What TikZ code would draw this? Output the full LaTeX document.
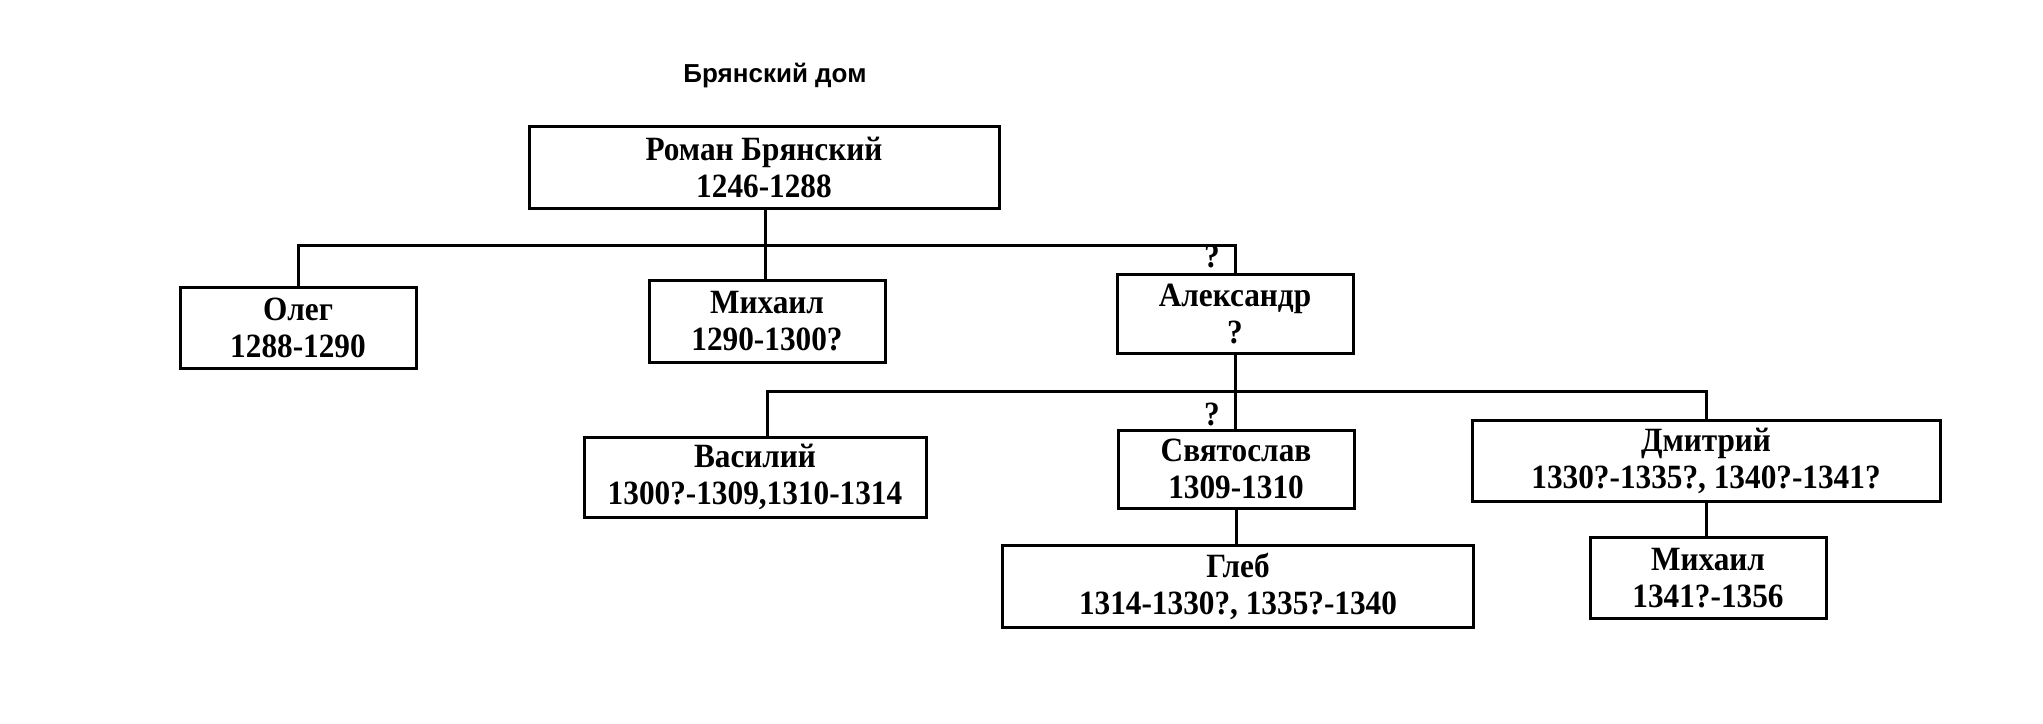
\documentclass[tikz,border=0pt]{standalone}
\usepackage{fontspec}
\setmainfont{Liberation Serif}[FakeStretch=0.92]
\newfontfamily\titlefont{Liberation Sans}
\begin{document}
\begin{tikzpicture}[x=0.5pt,y=-0.5pt,
  person/.style={draw=black,line width=1.5pt,rectangle,inner sep=0pt,align=center,
    font=\fontsize{17}{18.5}\selectfont\bfseries},
  link/.style={line width=1.5pt},
  qmark/.style={font=\fontsize{17}{18.5}\selectfont\bfseries,inner sep=0pt}]
\useasboundingbox (0,0) rectangle (2043,723);
\node[font=\titlefont\fontsize{13}{15}\selectfont\bfseries] (title) at (775,76) {Брянский дом};
\node[person,minimum width=235pt,minimum height=41pt] (roman) at (764,167) {Роман Брянский\\1246-1288};
\node[person,minimum width=118pt,minimum height=40.5pt] (oleg) at (298,328) {Олег\\1288-1290};
\node[person,minimum width=118pt,minimum height=41pt] (mikh1) at (767,321) {Михаил\\1290-1300?};
\node[person,minimum width=118pt,minimum height=39.5pt] (alex) at (1235,314) {Александр\\?};
\node[person,minimum width=171pt,minimum height=40pt] (vasily) at (755,477) {Василий\\1300?-1309,1310-1314};
\node[person,minimum width=118pt,minimum height=39pt] (svyat) at (1236,469) {Святослав\\1309-1310};
\node[person,minimum width=234pt,minimum height=40.5pt] (dmitry) at (1706,461) {Дмитрий\\1330?-1335?, 1340?-1341?};
\node[person,minimum width=235.5pt,minimum height=41pt] (gleb) at (1238,586) {Глеб\\1314-1330?, 1335?-1340};
\node[person,minimum width=118pt,minimum height=40.5pt] (mikh2) at (1708,578) {Михаил\\1341?-1356};
\coordinate (j1) at (765,245);
\coordinate (j2) at (1235,391);
\draw[link] (roman.south -| j1) -- (mikh1.north -| j1);
\draw[link] (oleg.north) |- (j1) -| (alex.north);
\draw[link] (alex.south) -- (j2);
\draw[link] (vasily.north -| mikh1) |- (j2) -| (dmitry.north);
\draw[link] (j2) -- (j2 |- svyat.north);
\draw[link] (svyat.south) -- (svyat.south |- gleb.north);
\draw[link] (dmitry.south) -- (dmitry.south |- mikh2.north);
\node[qmark] (q1) at (1212,256) {?};
\node[qmark] (q2) at (1212,414) {?};
\end{tikzpicture}
\end{document}
